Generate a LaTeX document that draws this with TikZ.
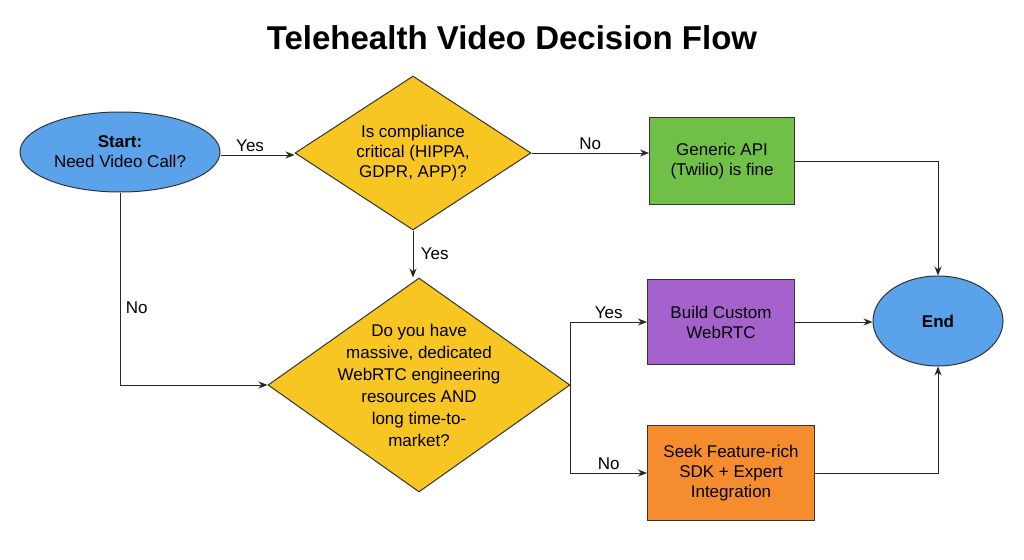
\documentclass[tikz,border=0pt]{standalone}
\usepackage{fontspec}
\setmainfont{Liberation Sans}
\usetikzlibrary{shapes.geometric,arrows.meta}
\begin{document}
\begin{tikzpicture}[x=1pt,y=-1pt,
  every node/.style={font=\fontsize{17}{20}\selectfont, align=center},
  box/.style={draw=black!80, line width=1pt, minimum width=#1, inner sep=2pt},
  dia/.style={diamond, draw=black!80, line width=1pt, fill=dyel, inner sep=0pt},
  ell/.style={ellipse, draw=black!80, line width=1pt, fill=dblue},
  con/.style={draw=black!85, line width=1pt, -{Stealth[length=9pt,width=7pt]}},
  lab/.style={font=\fontsize{17}{20}\selectfont}]
\definecolor{dblue}{HTML}{5AA2EA}
\definecolor{dyel}{HTML}{F7C623}
\definecolor{dgreen}{HTML}{70BF47}
\definecolor{dpurp}{HTML}{A562CC}
\definecolor{dorange}{HTML}{F58C2D}
\useasboundingbox[fill=white] (0,0) rectangle (1024,559);
\node[font=\fontsize{33}{38}\selectfont\bfseries] (title) at (512,38) {Telehealth Video Decision Flow};
\node[ell, minimum width=200pt, minimum height=80pt] (start) at (120,152) {\textbf{Start:}\\Need Video Call?};
\node[dia, minimum width=236pt, minimum height=154pt] (d1) at (413,153) {};
\node at (d1) {Is compliance\\critical (HIPPA,\\GDPR, APP)?};
\node[box=145pt, fill=dgreen, minimum height=87pt] (gen) at (722,161) {Generic API\\(Twilio) is fine};
\node[dia, minimum width=302pt, minimum height=214pt] (d2) at (419,385) {};
\node[font=\fontsize{17}{22}\selectfont] at (d2) {Do you have\\massive, dedicated\\WebRTC engineering\\resources AND\\long time-to-\\market?};
\node[box=147pt, fill=dpurp, minimum height=85pt] (cust) at (721,322) {Build Custom\\WebRTC};
\node[box=167pt, fill=dorange, minimum height=95pt] (sdk) at (731,473) {Seek Feature-rich\\SDK + Expert\\Integration};
\node[ell, minimum width=130pt, minimum height=90pt] (end) at (938,321) {\textbf{End}};
\draw[con] (start.east |- 0,155) -- node[lab, above, pos=0.4] {Yes} (d1.west |- 0,155);
\draw[con] (d1.east) -- node[lab, above] {No} (gen.west |- d1.east);
\draw[con] (gen.east) -| (end.north);
\draw[con] (d1.south) -- node[lab, right, xshift=4pt] {Yes} (d1.south |- d2.north);
\draw[con] (start.south) |- node[lab, pos=0.3, right, xshift=2pt] {No} (d2.west);
\coordinate (sp) at (d2.east);
\draw[con] (sp) |- node[lab, above, pos=0.75] {Yes} (cust.west);
\draw[con] (sp) |- node[lab, above, pos=0.75] {No} (sdk.west);
\draw[con] (cust.east) -- (cust.east -| end.west);
\draw[con] (sdk.east) -| (end.south);
\end{tikzpicture}
\end{document}
